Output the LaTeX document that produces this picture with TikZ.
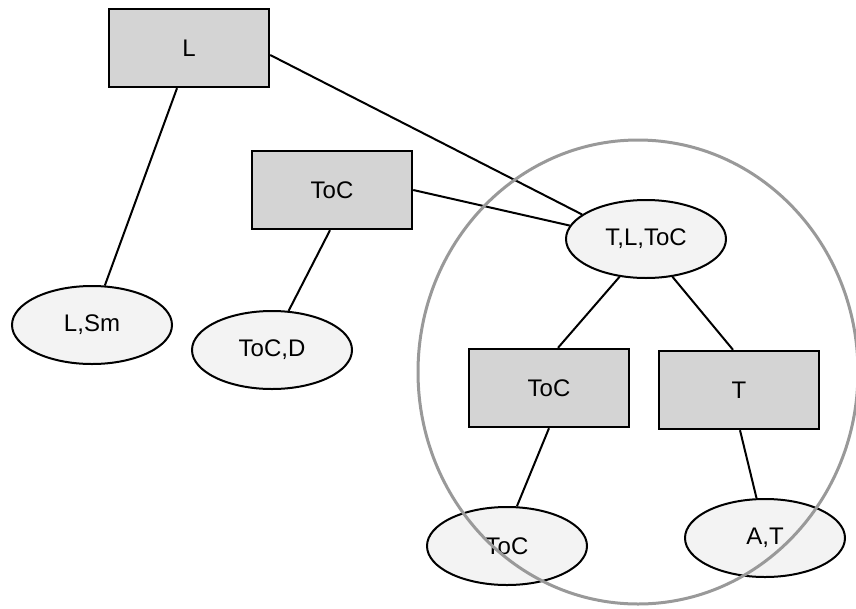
\documentclass[tikz,border=0pt]{standalone}
\usepackage{fontspec}
\setmainfont{Liberation Sans}
\usetikzlibrary{shapes.geometric}
\definecolor{boxfill}{HTML}{D4D4D4}
\definecolor{ovalfill}{HTML}{F3F3F3}
\definecolor{ringgray}{HTML}{999999}
\begin{document}
\begin{tikzpicture}[x=1pt,y=-1pt,
  every node/.style={font=\fontsize{24}{28}\selectfont, inner sep=0pt},
  boxnode/.style={draw=black, line width=2.4pt, fill=boxfill, rectangle,
    minimum width=160pt, minimum height=78pt},
  ovalnode/.style={draw=black, line width=2pt, fill=ovalfill, ellipse,
    minimum width=160pt, minimum height=78pt},
  link/.style={draw=black, line width=2pt},
  ring/.style={draw=ringgray, line width=3pt}]
  \useasboundingbox (0,0) rectangle (856,608);

  % nodes
  \node[boxnode]  (L)    at (189,48)  {L};
  \node[boxnode]  (TC1)  at (332,190) {ToC};
  \node[ovalnode] (TLT)  at (646,239) {T,L,ToC};
  \node[ovalnode] (LSm)  at (92,325)  {L,Sm};
  \node[ovalnode] (TCD)  at (272,350) {ToC,D};
  \node[boxnode]  (TC2)  at (549,388) {ToC};
  \node[boxnode]  (T)    at (739,390) {T};
  \node[ovalnode] (TC3)  at (507,546) {ToC};
  \node[ovalnode] (AT)   at (765,538) {A,T};

  % connectors
  \draw[link] ([xshift=-12pt]L.south) -- (LSm.72);
  \draw[link] ([yshift=-7pt]L.east) -- (TLT.159);
  \draw[link] (TC1.east) -- (TLT.170);
  \draw[link] ([xshift=-2pt]TC1.south) -- (TCD.67);
  \draw[link] (TLT.235) -- ([xshift=9pt]TC2.north);
  \draw[link] (TLT.305) -- ([xshift=-6pt]T.north);
  \draw[link] (TC2.south) -- (TC3.76);
  \draw[link] ([xshift=1pt]T.south) -- (AT.102);

  % grouping ring
  \draw[ring] (638,372) ellipse [x radius=220, y radius=232];
\end{tikzpicture}
\end{document}
